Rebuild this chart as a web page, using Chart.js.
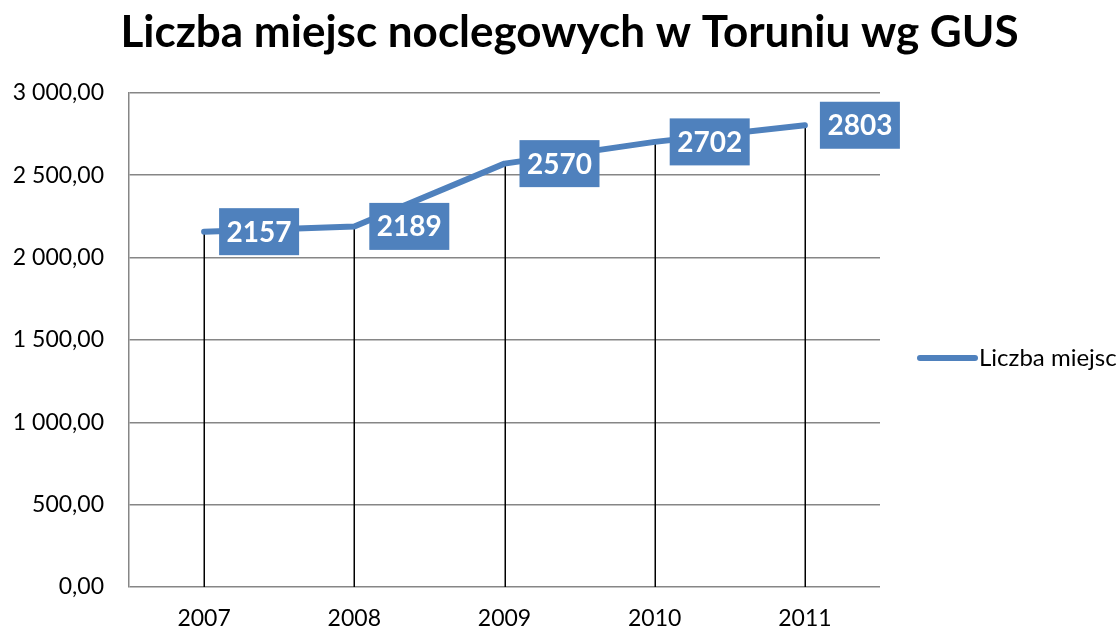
<!DOCTYPE html>
<html>
<head>
<meta charset="utf-8">
<script src="https://cdn.jsdelivr.net/npm/chart.js@4"></script>
<style>
html,body{margin:0;padding:0;background:#fff;}
#wrap{width:1119px;height:630px;position:relative;}
</style>
</head>
<body>
<div id="wrap"><canvas id="c" width="1119" height="630"></canvas></div>
<script>
const titleText = 'Liczba miejsc noclegowych w Toruniu wg GUS';
const categories = ['2007', '2008', '2009', '2010', '2011'];
const seriesName = 'Liczba miejsc';
const seriesValues = [2157, 2189, 2570, 2702, 2803];
const yTicks = [0, 500, 1000, 1500, 2000, 2500, 3000];

const BLUE = '#4F81BD';
const FONT = 'Lato, "Open Sans", sans-serif';

function fmt(v){
  const s = v.toFixed(2).split('.');
  const int = s[0].replace(/\B(?=(\d{3})+(?!\d))/g, ' ');
  return int + ',' + s[1];
}

const extras = {
  id: 'extras',
  afterLayout(chart){
    const t = chart.titleBlock;
    if (t) { t.left = 20; t.right = 1119; }
  },
  beforeDatasetsDraw(chart){
    const ctx = chart.ctx;
    const meta = chart.getDatasetMeta(0);
    const bottom = chart.chartArea.bottom;
    ctx.save();
    ctx.strokeStyle = '#000';
    ctx.lineWidth = 1.5;
    meta.data.forEach(p => {
      ctx.beginPath();
      ctx.moveTo(Math.round(p.x)+0.25, p.y);
      ctx.lineTo(Math.round(p.x)+0.25, bottom);
      ctx.stroke();
    });
    ctx.restore();
  },
  afterDatasetsDraw(chart){
    const ctx = chart.ctx;
    const meta = chart.getDatasetMeta(0);
    ctx.save();
    meta.data.forEach((p, i) => {
      const w = 80, h = 47;
      const x0 = p.x + 15, y0 = p.y - h/2;
      ctx.fillStyle = BLUE;
      ctx.fillRect(x0, y0, w, h);
      ctx.fillStyle = '#fff';
      ctx.font = 'bold 28px ' + FONT;
      ctx.textAlign = 'center';
      ctx.textBaseline = 'middle';
      ctx.fillText(String(seriesValues[i]), x0 + w/2, y0 + h/2 + 1);
    });
    // legend
    const ly = 358;
    ctx.strokeStyle = BLUE;
    ctx.lineWidth = 6;
    ctx.lineCap = 'round';
    ctx.beginPath();
    ctx.moveTo(920, ly);
    ctx.lineTo(975, ly);
    ctx.stroke();
    ctx.fillStyle = '#000';
    ctx.font = '24px ' + FONT;
    ctx.textAlign = 'left';
    ctx.textBaseline = 'middle';
    ctx.fillText(seriesName, 979, ly);
    ctx.restore();
  }
};

new Chart(document.getElementById('c'), {
  type: 'line',
  data: {
    labels: categories,
    datasets: [{
      label: seriesName,
      data: seriesValues,
      borderColor: BLUE,
      backgroundColor: BLUE,
      borderWidth: 6,
      borderCapStyle: 'round',
      borderJoinStyle: 'round',
      pointRadius: 0,
      tension: 0,
      yAxisID: 'y'
    }]
  },
  options: {
    responsive: false,
    animation: false,
    layout: { padding: { top: 0, right: 0, bottom: 0, left: 0 } },
    plugins: {
      legend: { display: false },
      tooltip: { enabled: false },
      title: {
        display: true,
        text: titleText,
        color: '#000',
        font: { family: FONT, size: 44, weight: 'bold', lineHeight: 1.2 },
        padding: { top: 6, bottom: 34 }
      }
    },
    scales: {
      x: {
        offset: true,
        grid: { display: false, drawTicks: false },
        border: { display: false },
        ticks: { color: '#000', font: { family: FONT, size: 23 }, padding: 18, maxRotation: 0 },
        afterFit(scale){ scale.height = 43; }
      },
      y: {
        position: 'left',
        min: 0, max: 3000,
        afterBuildTicks(scale){ scale.ticks = yTicks.map(v => ({ value: v })); },
        grid: { color: '#868686', lineWidth: 1.5, drawTicks: false },
        border: { color: '#868686', width: 1.5 },
        ticks: { color: '#000', font: { family: FONT, size: 23 }, padding: 25, callback: v => fmt(v) },
        afterFit(scale){ scale.width = 129; }
      },
      yRight: {
        position: 'right',
        min: 0, max: 3000,
        display: true,
        grid: { display: false, drawOnChartArea: false, drawTicks: false },
        border: { display: false },
        ticks: { display: false },
        afterFit(scale){ scale.width = 239; }
      }
    }
  },
  plugins: [extras]
});
</script>
</body>
</html>
